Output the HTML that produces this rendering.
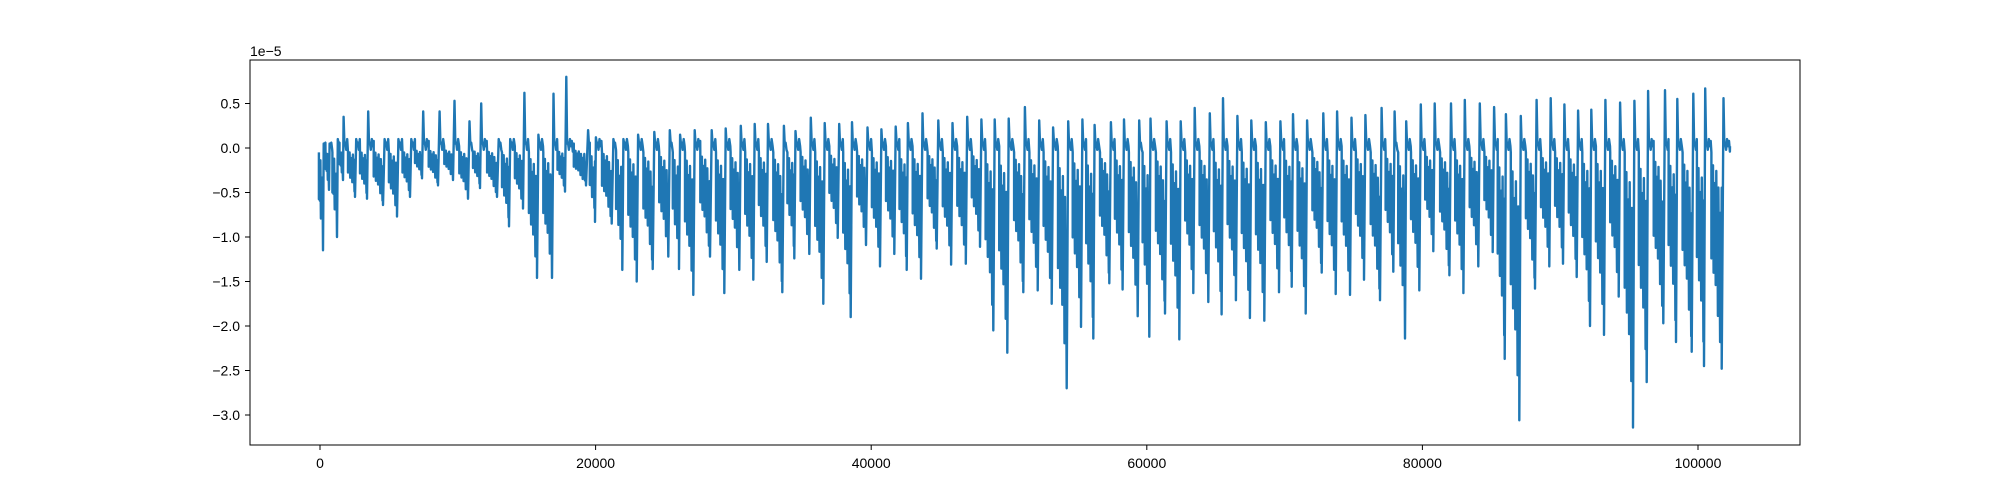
<!DOCTYPE html>
<html><head><meta charset="utf-8">
<style>
html,body{margin:0;padding:0;background:#fff;}
svg{display:block;font-family:"Liberation Sans","DejaVu Sans",sans-serif;}
</style></head>
<body>
<svg id="chart" width="2000" height="500" viewBox="0 0 2000 500" xmlns="http://www.w3.org/2000/svg">
<defs><clipPath id="plotclip"><rect x="250" y="60" width="1550" height="385"/></clipPath></defs>
<rect x="0" y="0" width="2000" height="500" fill="#fff"/>
<g id="series" clip-path="url(#plotclip)"></g>
<rect x="250" y="60" width="1550" height="385" fill="none" stroke="#000" stroke-width="1"/>
<g id="xticks"></g>
<g id="yticks"></g>
<text x="250" y="56" font-size="14" fill="#000">1e−5</text>
</svg>
<script>
const xTickValues = [0, 20000, 40000, 60000, 80000, 100000];
const xTickLabels = ["0", "20000", "40000", "60000", "80000", "100000"];
const yTickValues = [0.5, 0.0, -0.5, -1.0, -1.5, -2.0, -2.5, -3.0];
const yTickLabels = ["0.5", "0.0", "−0.5", "−1.0", "−1.5", "−2.0", "−2.5", "−3.0"];

// per-cycle: sample index of deepest point, minimum value, following spike peak (units of 1e-5)
const cycleX = [218,653,1234,1669,2540,3411,4572,5588,6531,7402,8563,9652,10740,11611,12845,13716,14732,15748,16836,17780,19304,
19957,21168,21937,22982,24143,25275,26052,27089,28302,29339,30428,31444,
32416,33552,34422,35510,36526,37571,38514,39622,40638,41676,42576,43617,44755,45797,46863,47896,48863,49879,51040,52085,53101,
54185,55223,56119,57280,58247,59336,60184,61322,62359,63375,64464,65431,66469,67485,68529,69592,70515,71531,72692,73708,74748,75764,
76922,77889,78737,79778,80794,81956,82972,84060,85101,85972,87032,88172,89210,90204,91198,92163,93179,94244,95283,96277,97482,98403,99542,100435,101719];
const cycleMin = [-1.15,-0.47,-1.0,-0.36,-0.55,-0.57,-0.64,-0.77,-0.55,-0.34,-0.42,-0.36,-0.57,-0.45,-0.55,-0.88,-0.68,-1.46,-1.46,-0.49,-0.42,
-0.83,-0.85,-1.37,-1.50,-1.36,-1.22,-1.36,-1.65,-1.22,-1.63,-1.37,-1.48,
-1.28,-1.62,-1.24,-1.19,-1.75,-1.01,-1.9,-1.09,-1.33,-1.19,-1.37,-1.47,-1.13,-1.31,-1.30,-1.11,-2.05,-2.3,-1.62,-1.60,-1.75,
-2.7,-2.01,-2.14,-1.52,-1.59,-1.89,-2.12,-1.86,-2.15,-1.63,-1.73,-1.87,-1.71,-1.91,-1.94,-1.62,-1.56,-1.86,-1.40,-1.64,-1.65,-1.48,
-1.71,-1.39,-2.14,-1.60,-1.16,-1.43,-1.63,-1.33,-1.17,-2.37,-3.06,-1.58,-1.33,-1.30,-1.45,-2.0,-2.1,-1.67,-3.14,-2.63,-1.97,-2.18,-2.29,-2.45,-2.48];
const cycleMax = [0.05,0.05,0.1,0.35,0.1,0.41,0.1,0.1,0.1,0.41,0.41,0.53,0.3,0.5,0.1,0.1,0.62,0.15,0.61,0.80,0.2,
0.12,0.1,0.1,0.15,0.18,0.2,0.15,0.2,0.2,0.22,0.25,0.27,
0.27,0.25,0.19,0.34,0.28,0.27,0.29,0.23,0.21,0.24,0.28,0.39,0.31,0.28,0.35,0.32,0.32,0.33,0.46,0.31,0.23,
0.30,0.32,0.26,0.29,0.32,0.31,0.33,0.30,0.30,0.45,0.39,0.56,0.36,0.31,0.29,0.30,0.38,0.31,0.39,0.41,0.34,0.37,
0.45,0.41,0.30,0.49,0.50,0.50,0.54,0.50,0.46,0.38,0.36,0.54,0.56,0.49,0.42,0.43,0.54,0.51,0.53,0.64,0.65,0.55,0.61,0.67,0.56];
const dataEnd = 102324;
const flatLevel = 0.05;

const NS = "http://www.w3.org/2000/svg";
function xs(v){ return 320 + v * 0.01378; }
function ys(v){ return 148 - v * 89; }

// axes
const xg = document.getElementById('xticks');
xTickValues.forEach((v,i)=>{
  const x = xs(v);
  const l = document.createElementNS(NS,'line');
  l.setAttribute('x1',x); l.setAttribute('x2',x); l.setAttribute('y1',445); l.setAttribute('y2',450);
  l.setAttribute('stroke','#000');
  
  
  xg.appendChild(l);
  const t = document.createElementNS(NS,'text');
  t.setAttribute('x',x); t.setAttribute('y',468); t.setAttribute('text-anchor','middle'); t.setAttribute('font-size','14');
  t.textContent = xTickLabels[i];
  
  
  xg.appendChild(t);
});
const yg = document.getElementById('yticks');
yTickValues.forEach((v,i)=>{
  const y = ys(v);
  const l = document.createElementNS(NS,'line');
  l.setAttribute('x1',245); l.setAttribute('x2',250); l.setAttribute('y1',y); l.setAttribute('y2',y);
  l.setAttribute('stroke','#000');
  
  
  yg.appendChild(l);
  const t = document.createElementNS(NS,'text');
  t.setAttribute('x',240); t.setAttribute('y',y+5); t.setAttribute('text-anchor','end'); t.setAttribute('font-size','14');
  t.textContent = yTickLabels[i];
  
  
  yg.appendChild(t);
});

// series
const pts = [];
function add(x,v){ pts.push(xs(x).toFixed(1)+','+ys(v).toFixed(1)); }
const wig = [0.06,-0.02,0.1,0.02,0.08,-0.04,0.05,0.11];
const lowMul = [1,0.84,0.95,0.76,0.9,0.8,0.97,0.72];
const upMul = [1,0.6,1.25,0.8,0.45];
let cursor = 0;
function flat(a,b){
  const stepX = 70;
  let k=0;
  for(let x=a; x<b; x+=stepX){ add(x, wig[k%wig.length]); k++; }
}
for(let i=0;i<cycleX.length;i++){
  const m = cycleX[i];
  const p = i>0 ? cycleX[i-1] : -300;
  const P = m - p;
  const s = p + 0.42*P;
  flat(cursor, s);
  const mn = cycleMin[i];
  add(s, -0.05);
  const n = Math.max(6, Math.round((m - s)*0.01378/0.55));
  for(let k=0;k<=n;k++){
    const t = k/n;
    const x = s + (m - s)*t;
    if(k%2===0){
      const f = k===n ? 1 : (0.5 + 0.45*t) * lowMul[(k/2)%lowMul.length];
      add(x, mn*f);
    } else {
      add(x, mn*(0.08 + 0.32*t) * upMul[((k-1)/2)%upMul.length]);
    }
  }
  add(m, mn);
  const sp = m + Math.min(180, 0.1*P);
  add(sp, cycleMax[i]);
  add(sp + 60, flatLevel);
  cursor = sp + 120;
}
flat(cursor, dataEnd);
add(dataEnd, 0.02);

const pl = document.createElementNS(NS,'polyline');
pl.setAttribute('points', pts.join(' '));
pl.setAttribute('fill','none');
pl.setAttribute('stroke','#1f77b4');
pl.setAttribute('stroke-width','2.4');
pl.setAttribute('stroke-linejoin','round');


document.getElementById('series').appendChild(pl);
</script>
</body></html>
